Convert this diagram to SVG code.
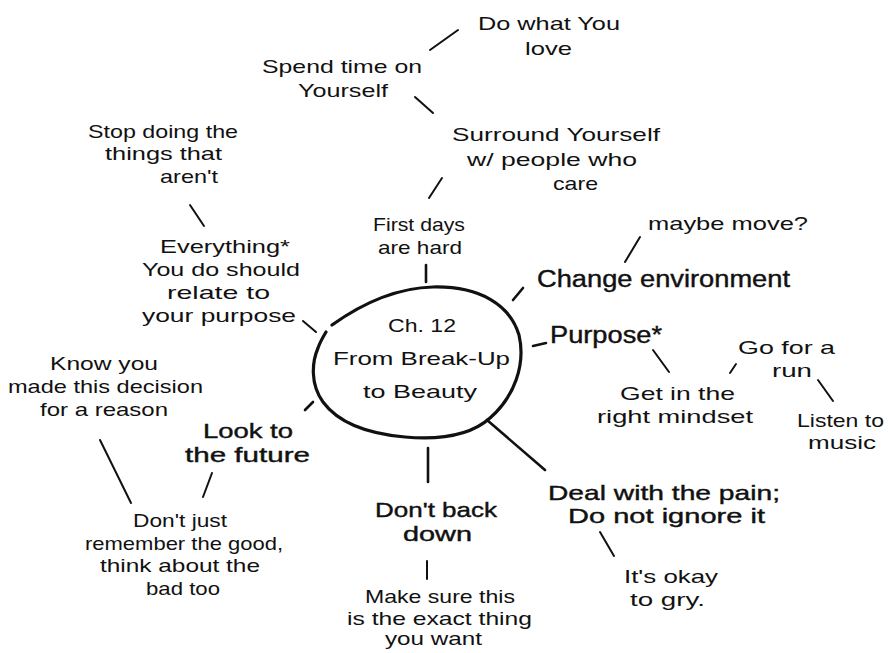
<svg xmlns="http://www.w3.org/2000/svg" width="888" height="653" viewBox="0 0 888 653">
<style>
text{font-family:"Liberation Sans","DejaVu Sans",sans-serif;fill:#111}
.r{font-size:19px}
.b{font-size:23px;stroke:#111;stroke-width:0.4}
.c{font-size:21px;stroke:#111;stroke-width:0.4}
.ln{stroke:#111;stroke-width:2;stroke-linecap:round;fill:none}
.th{stroke-width:2.6}
</style>
<rect width="888" height="653" fill="#fff"/>
<g id="connectors">
<line class="ln" x1="430" y1="50" x2="458" y2="30"/>
<line class="ln" x1="415" y1="97" x2="433" y2="113"/>
<line class="ln" x1="429" y1="198" x2="442" y2="178"/>
<line class="ln th" x1="426" y1="265" x2="426" y2="282"/>
<line class="ln" x1="190" y1="205" x2="204" y2="226"/>
<path class="ln" d="M303,321 L316,332"/>
<line class="ln th" x1="513" y1="300" x2="523" y2="288"/>
<line class="ln" x1="625" y1="262" x2="640" y2="237"/>
<line class="ln th" x1="533" y1="346" x2="546" y2="343"/>
<line class="ln" x1="653" y1="350" x2="669" y2="372"/>
<line class="ln" x1="730" y1="373" x2="736" y2="364"/>
<line class="ln" x1="818" y1="380" x2="833" y2="401"/>
<line class="ln th" x1="305" y1="410" x2="313" y2="402"/>
<line class="ln" x1="100" y1="440" x2="131" y2="503"/>
<line class="ln" x1="212" y1="473" x2="203" y2="497"/>
<line class="ln th" x1="428" y1="448" x2="428" y2="482"/>
<line class="ln" x1="427" y1="561" x2="427" y2="579"/>
<line class="ln th" x1="487" y1="420" x2="545" y2="470"/>
<line class="ln" x1="600" y1="532" x2="614" y2="556"/>
</g>
<g id="center">
<path class="ln" style="stroke-width:3.2" d="M332,325 C360,305 395,288 433,287 C480,286 510,305 519,335 C526,365 514,397 490,418 C470,436 440,440 405,437 C370,434 340,425 323,402 C310,384 312,362 318,348 C320,342 323,337 326,332"/>
<text class="r" x="388" y="332" textLength="68" lengthAdjust="spacingAndGlyphs">Ch. 12</text>
<text class="r" x="333" y="365" textLength="177" lengthAdjust="spacingAndGlyphs">From Break-Up</text>
<text class="r" x="363" y="398" textLength="114" lengthAdjust="spacingAndGlyphs">to Beauty</text>
</g>
<g id="do-what">
<text class="r" x="478" y="30" textLength="142" lengthAdjust="spacingAndGlyphs">Do what You</text>
<text class="r" x="525" y="55" textLength="47" lengthAdjust="spacingAndGlyphs">love</text>
</g>
<g id="spend-time">
<text class="r" x="262" y="73" textLength="160" lengthAdjust="spacingAndGlyphs">Spend time on</text>
<text class="r" x="298" y="97" textLength="90" lengthAdjust="spacingAndGlyphs">Yourself</text>
</g>
<g id="surround">
<text class="r" x="452" y="141" textLength="208" lengthAdjust="spacingAndGlyphs">Surround Yourself</text>
<text class="r" x="467" y="166" textLength="170" lengthAdjust="spacingAndGlyphs">w/ people who</text>
<text class="r" x="553" y="190" textLength="45" lengthAdjust="spacingAndGlyphs">care</text>
</g>
<g id="first-days">
<text class="r" x="373" y="231" textLength="92" lengthAdjust="spacingAndGlyphs">First days</text>
<text class="r" x="378" y="254" textLength="84" lengthAdjust="spacingAndGlyphs">are hard</text>
</g>
<g id="stop-doing">
<text class="r" x="88" y="138" textLength="150" lengthAdjust="spacingAndGlyphs">Stop doing the</text>
<text class="r" x="105" y="160" textLength="117" lengthAdjust="spacingAndGlyphs">things that</text>
<text class="r" x="160" y="183" textLength="58" lengthAdjust="spacingAndGlyphs">aren't</text>
</g>
<g id="everything">
<text class="r" x="160" y="253" textLength="130" lengthAdjust="spacingAndGlyphs">Everything*</text>
<text class="r" x="142" y="276" textLength="158" lengthAdjust="spacingAndGlyphs">You do should</text>
<text class="r" x="167" y="299" textLength="103" lengthAdjust="spacingAndGlyphs">relate to</text>
<text class="r" x="142" y="322" textLength="154" lengthAdjust="spacingAndGlyphs">your  purpose</text>
</g>
<g id="maybe-move">
<text class="r" x="648" y="230" textLength="160" lengthAdjust="spacingAndGlyphs">maybe move?</text>
</g>
<g id="change-env">
<text class="b" x="537" y="287" textLength="253" lengthAdjust="spacingAndGlyphs">Change environment</text>
</g>
<g id="purpose">
<text class="b" x="550" y="343" textLength="112" lengthAdjust="spacingAndGlyphs">Purpose*</text>
</g>
<g id="mindset">
<text class="r" x="620" y="400" textLength="115" lengthAdjust="spacingAndGlyphs">Get in the</text>
<text class="r" x="597" y="423" textLength="156" lengthAdjust="spacingAndGlyphs">right mindset</text>
</g>
<g id="run">
<text class="r" x="738" y="354" textLength="97" lengthAdjust="spacingAndGlyphs">Go for a</text>
<text class="r" x="772" y="377" textLength="40" lengthAdjust="spacingAndGlyphs">run</text>
</g>
<g id="music">
<text class="r" x="797" y="427" textLength="87" lengthAdjust="spacingAndGlyphs">Listen to</text>
<text class="r" x="808" y="449" textLength="68" lengthAdjust="spacingAndGlyphs">music</text>
</g>
<g id="know-you">
<text class="r" x="50" y="370" textLength="108" lengthAdjust="spacingAndGlyphs">Know you</text>
<text class="r" x="8" y="393" textLength="195" lengthAdjust="spacingAndGlyphs">made this decision</text>
<text class="r" x="40" y="416" textLength="128" lengthAdjust="spacingAndGlyphs">for a reason</text>
</g>
<g id="look-future">
<text class="c" x="203" y="438" textLength="90" lengthAdjust="spacingAndGlyphs">Look to</text>
<text class="c" x="185" y="462" textLength="125" lengthAdjust="spacingAndGlyphs">the future</text>
</g>
<g id="dont-just">
<text class="r" x="133" y="527" textLength="94" lengthAdjust="spacingAndGlyphs">Don't just</text>
<text class="r" x="85" y="550" textLength="198" lengthAdjust="spacingAndGlyphs">remember the good,</text>
<text class="r" x="100" y="572" textLength="160" lengthAdjust="spacingAndGlyphs">think about the</text>
<text class="r" x="146" y="595" textLength="74" lengthAdjust="spacingAndGlyphs">bad too</text>
</g>
<g id="dont-back">
<text class="c" x="375" y="517" textLength="122" lengthAdjust="spacingAndGlyphs">Don't back</text>
<text class="c" x="403" y="541" textLength="69" lengthAdjust="spacingAndGlyphs">down</text>
</g>
<g id="make-sure">
<text class="r" x="365" y="603" textLength="150" lengthAdjust="spacingAndGlyphs">Make sure this</text>
<text class="r" x="347" y="625" textLength="185" lengthAdjust="spacingAndGlyphs">is the exact  thing</text>
<text class="r" x="385" y="645" textLength="97" lengthAdjust="spacingAndGlyphs">you want</text>
</g>
<g id="deal-pain">
<text class="c" x="548" y="500" textLength="232" lengthAdjust="spacingAndGlyphs">Deal with the pain;</text>
<text class="c" x="568" y="523" textLength="197" lengthAdjust="spacingAndGlyphs">Do not ignore it</text>
</g>
<g id="okay-cry">
<text class="r" x="624" y="583" textLength="94" lengthAdjust="spacingAndGlyphs">It's okay</text>
<text class="r" x="630" y="606" textLength="75" lengthAdjust="spacingAndGlyphs">to gry.</text>
</g>
</svg>
